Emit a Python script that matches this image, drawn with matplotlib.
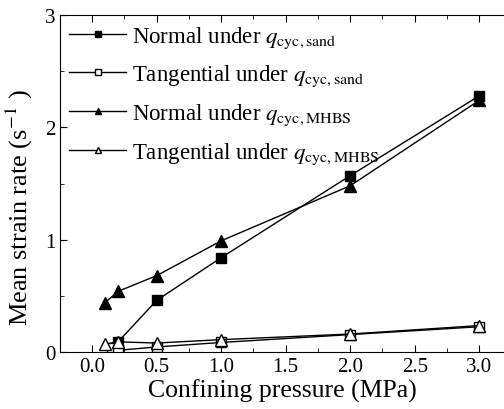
import matplotlib
matplotlib.use("Agg")
import matplotlib.pyplot as plt
from matplotlib.ticker import MultipleLocator, FormatStrFormatter

plt.rcParams['font.family'] = ['Liberation Serif', 'DejaVu Serif']
plt.rcParams['mathtext.fontset'] = 'stix'

# confining pressure (MPa)
x_normal_sand = [0.2, 0.5, 1.0, 2.0, 3.0]
y_normal_sand = [0.09, 0.46, 0.84, 1.57, 2.28]

x_tang_sand = [0.15, 0.2, 0.5, 1.0, 2.0, 3.0]
y_tang_sand = [0.035, 0.015, 0.045, 0.085, 0.155, 0.225]

x_normal_mhbs = [0.1, 0.2, 0.5, 1.0, 2.0, 3.0]
y_normal_mhbs = [0.44, 0.54, 0.68, 0.99, 1.48, 2.24]

x_tang_mhbs = [0.1, 0.2, 0.5, 1.0, 2.0, 3.0]
y_tang_mhbs = [0.07, 0.09, 0.08, 0.11, 0.16, 0.235]

fig = plt.figure(figsize=(5.04, 4.10), dpi=100)
ax = fig.add_axes([60 / 504, 57 / 410, 445 / 504, 337 / 410])

ms = 7
ax.plot(x_normal_sand, y_normal_sand, '-s', color='black', mfc='black', ms=ms, lw=1,
        label=r'Normal under $q_{\mathrm{cyc,sand}}$')
ax.plot(x_tang_sand, y_tang_sand, '-s', color='black', mfc='white', ms=ms, lw=1,
        label=r'Tangential under $q_{\mathrm{cyc,sand}}$')
ax.plot(x_normal_mhbs, y_normal_mhbs, '-^', color='black', mfc='black', ms=ms + 1, lw=1,
        label=r'Normal under $q_{\mathrm{cyc,MHBS}}$')
ax.plot(x_tang_mhbs, y_tang_mhbs, '-^', color='black', mfc='white', ms=ms + 1, lw=1,
        label=r'Tangential under $q_{\mathrm{cyc,MHBS}}$')

ax.set_xlim(-0.25, 3.2)
ax.set_ylim(0, 3)
ax.xaxis.set_major_locator(MultipleLocator(0.5))
ax.xaxis.set_minor_locator(MultipleLocator(0.25))
ax.xaxis.set_major_formatter(FormatStrFormatter('%.1f'))
ax.yaxis.set_major_locator(MultipleLocator(1))
ax.yaxis.set_minor_locator(MultipleLocator(0.5))
ax.tick_params(which='both', direction='in', top=True, right=False, labelsize=15)
ax.tick_params(which='major', length=5)
ax.tick_params(which='minor', length=3)

ax.set_xlabel('Confining pressure (MPa)', fontsize=18.5, labelpad=2)
ax.set_ylabel(r'Mean strain rate (s$^{-1}$ )', fontsize=19)
ax.yaxis.set_label_coords(-0.056, 0.43)

ax.legend(loc='upper left', frameon=False, fontsize=16.5, markerscale=0.6,
          handlelength=2.5, handletextpad=0.25, labelspacing=0.58,
          borderaxespad=0.1, borderpad=0.3)

fig.savefig('out.png', dpi=100)
